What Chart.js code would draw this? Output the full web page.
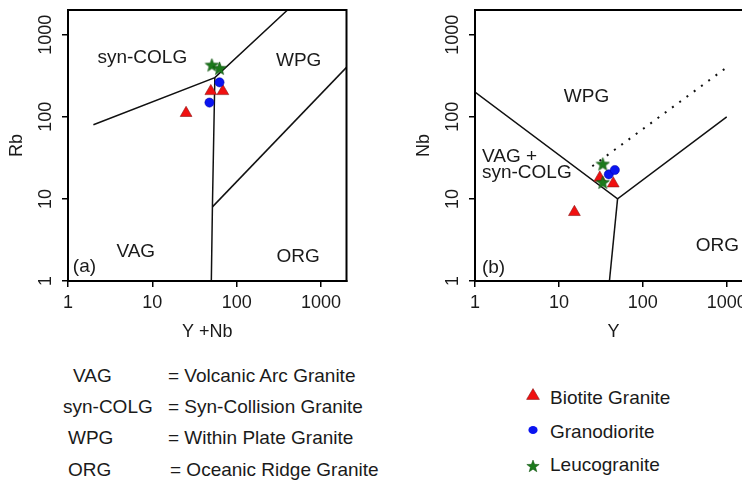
<!DOCTYPE html>
<html><head><meta charset="utf-8">
<script src="https://cdn.jsdelivr.net/npm/chart.js@4.4.1/dist/chart.umd.min.js"></script>
<style>
html,body{margin:0;padding:0;width:742px;height:483px;overflow:hidden;background:#fff;}
body{position:relative;font-family:"Liberation Sans",Arial,sans-serif;color:#1a1a1a;}
#wrapA{position:absolute;left:0;top:0;width:380px;height:350px;}
#wrapB{position:absolute;left:407px;top:0;width:400px;height:350px;}
.lg{position:absolute;font-size:19px;line-height:22px;white-space:nowrap;}
.mk{position:absolute;}
</style></head><body>
<div id="wrapA"><canvas id="chartA" width="380" height="350"></canvas></div>
<div id="wrapB"><canvas id="chartB" width="400" height="350"></canvas></div>
<div id="abbr"></div>
<div id="legend"></div>
<script>
// ---------- data ----------
const tickValues = [1, 10, 100, 1000];
const axisMin = 1;
const axisMax = 2000;
const seriesNames = ['Biotite Granite', 'Granodiorite', 'Leucogranite'];

// panel (a): Rb vs Y+Nb
const biotiteYNb = [25.1, 49.3, 68.5];
const biotiteRb = [111, 205, 205];
const granodioriteYNb = [47.5, 62.5];
const granodioriteRb = [149, 263];
const leucograniteYNb = [50.7, 62.5];
const leucograniteRb = [427, 390];

// panel (b): Nb vs Y
const biotiteY = [15.3, 30.7, 44.4];
const biotiteNb = [6.9, 18.1, 15.4];
const granodioriteY = [39.3, 46.4];
const granodioriteNb = [19.9, 22.5];
const leucograniteY = [33.3, 33.3];
const leucograniteNb = [26.6, 15.9];

// field boundaries
const aSynColX = [2, 55, 400];      const aSynColY = [80, 300, 2000];
const aVagX = [55, 51.5, 50];       const aVagY = [300, 8, 1];
const aOrgX = [51.5, 2000];         const aOrgY = [8, 400];
const bWpgX = [1, 50, 1000];        const bWpgY = [200, 10, 100];
const bOrgX = [50, 40];             const bOrgY = [10, 1];
const bDotX = [25, 1000];           const bDotY = [25, 400];

// text
const abbrevCodes = ['VAG', 'syn-COLG', 'WPG', 'ORG'];
const abbrevNames = ['= Volcanic Arc Granite', '= Syn-Collision Granite', '= Within Plate Granite', '= Oceanic Ridge Granite'];
const labelsA = ['syn-COLG', 'WPG', 'VAG', 'ORG', '(a)'];
const labelsB = ['WPG', 'VAG +', 'syn-COLG', 'ORG', '(b)'];

// ---------- layout / style ----------
const FONT = '"Liberation Sans", Arial, sans-serif';
const TXT = '#1a1a1a';
const colRed = '#f01010', colBlue = '#0a14f0', colGreen = '#1b7a1b';
// label anchors (data coordinates) and alignment
const anchorsA = [[7.6, 520, 'center'], [542, 478, 'center'], [6.36, 2.26, 'center'], [535, 1.96, 'center'], [1.14, 1.48, 'left']];
const anchorsB = [[21.3, 174, 'center'], [1.21, 32.4, 'left'], [1.21, 20.7, 'left'], [428, 2.67, 'left'], [1.21, 1.44, 'left']];

const pts = (xs, ys) => xs.map((x, i) => ({x: x, y: ys[i]}));

function starCanvas(size, color) {
  const c = document.createElement('canvas');
  c.width = size; c.height = size;
  const g = c.getContext('2d');
  const cx = size / 2, cy = size / 2 + 0.5, R = size / 2 - 0.5, r = R * 0.42;
  g.beginPath();
  for (let i = 0; i < 10; i++) {
    const rad = i % 2 ? r : R;
    const a = -Math.PI / 2 + i * Math.PI / 5;
    g.lineTo(cx + rad * Math.cos(a), cy + rad * Math.sin(a));
  }
  g.closePath();
  g.fillStyle = color; g.fill();
  g.strokeStyle = '#0d4d0d'; g.lineWidth = 0.6; g.stroke();
  return c;
}
const starImg = starCanvas(15, colGreen);

function pointSets(bx, by, gx, gy, lx, ly) {
  return [
    {label: seriesNames[2], data: pts(lx, ly), pointStyle: starImg, pointRadius: 7, order: 1, showLine: false},
    {label: seriesNames[1], data: pts(gx, gy), pointStyle: 'circle', pointRadius: 4.6, backgroundColor: colBlue, borderColor: '#0000a0', borderWidth: 0.5, order: 2, showLine: false},
    {label: seriesNames[0], data: pts(bx, by), pointStyle: 'triangle', pointRadius: 6.8, backgroundColor: colRed, borderColor: '#8a1a1a', borderWidth: 0.6, order: 3, showLine: false}
  ];
}
function lineSet(xs, ys, dash) {
  return {data: pts(xs, ys), showLine: true, pointRadius: 0, borderColor: '#111', borderWidth: dash ? 2 : 1.5,
          borderDash: dash || [], order: 10, fill: false, tension: 0};
}

function logAxis(axis, title) {
  const isX = axis === 'x';
  return {
    type: 'logarithmic', min: axisMin, max: axisMax, position: isX ? 'bottom' : 'left',
    afterBuildTicks: s => { s.ticks = tickValues.map(v => ({value: v})); },
    afterFit: s => { if (isX) s.height = 69; else s.width = 68; },
    grid: {display: true, drawOnChartArea: false, drawTicks: true, tickLength: 6, color: '#000', lineWidth: 1.5},
    border: {display: true, color: '#000', width: 2},
    ticks: isX
      ? {autoSkip: false, maxRotation: 0, minRotation: 0, padding: 5, color: TXT, font: {family: FONT, size: 18}, callback: v => String(v)}
      : {autoSkip: false, minRotation: 90, maxRotation: 90, crossAlign: 'center', padding: -4, color: TXT, font: {family: FONT, size: 18}, callback: v => String(v)},
    title: {display: true, text: title, color: TXT, font: {family: FONT, size: 18},
            padding: isX ? {top: 0, bottom: 7} : {top: 6, bottom: 0}}
  };
}

const framePlugin = {
  id: 'frame',
  beforeDatasetsDraw(chart) {
    const {ctx, chartArea: a, scales} = chart;
    const cfg = chart.options.plugins.regionLabels;
    ctx.save();
    ctx.fillStyle = TXT;
    ctx.font = '19px ' + FONT;
    ctx.textBaseline = 'middle';
    cfg.texts.forEach((t, i) => {
      const [x, y, al] = cfg.anchors[i];
      ctx.textAlign = al;
      ctx.fillText(t, scales.x.getPixelForValue(x), scales.y.getPixelForValue(y));
    });
    ctx.restore();
  },
  afterDraw(chart) {
    const {ctx, chartArea: a} = chart;
    ctx.save();
    ctx.strokeStyle = '#000'; ctx.lineWidth = 2;
    ctx.strokeRect(a.left, a.top, a.right - a.left, a.bottom - a.top);
    ctx.restore();
  }
};

function makeChart(id, datasets, xTitle, yTitle, texts, anchors, padRight) {
  return new Chart(document.getElementById(id), {
    type: 'scatter',
    data: {datasets: datasets},
    options: {
      responsive: false, animation: false, devicePixelRatio: 1,
      layout: {padding: {top: 10, right: padRight, left: 0, bottom: 0}},
      plugins: {legend: {display: false}, tooltip: {enabled: false}, regionLabels: {texts: texts, anchors: anchors}},
      scales: {x: logAxis('x', xTitle), y: logAxis('y', yTitle)}
    },
    plugins: [framePlugin]
  });
}

makeChart('chartA',
  pointSets(biotiteYNb, biotiteRb, granodioriteYNb, granodioriteRb, leucograniteYNb, leucograniteRb)
    .concat([lineSet(aSynColX, aSynColY), lineSet(aVagX, aVagY), lineSet(aOrgX, aOrgY)]),
  'Y +Nb', 'Rb', labelsA, anchorsA, 33.5);

makeChart('chartB',
  pointSets(biotiteY, biotiteNb, granodioriteY, granodioriteNb, leucograniteY, leucograniteNb)
    .concat([lineSet(bWpgX, bWpgY), lineSet(bOrgX, bOrgY), lineSet(bDotX, bDotY, [2, 7])]),
  'Y', 'Nb', labelsB, anchorsB, 55);

// ---------- abbreviation key (HTML text) ----------
const abbrLayout = [[73, 168, 376], [63, 168, 407], [68, 168, 438], [68, 170, 470]];
const abbr = document.getElementById('abbr');
abbrevCodes.forEach((c, i) => {
  const [x1, x2, cy] = abbrLayout[i];
  const a = document.createElement('div'); a.className = 'lg'; a.textContent = c;
  a.style.left = x1 + 'px'; a.style.top = (cy - 11) + 'px';
  const b = document.createElement('div'); b.className = 'lg'; b.textContent = abbrevNames[i];
  b.style.left = x2 + 'px'; b.style.top = (cy - 11) + 'px';
  abbr.appendChild(a); abbr.appendChild(b);
});

// ---------- series legend ----------
const legendRows = [398, 432, 465];
const legend = document.getElementById('legend');
function starPoly(cx, cy, R, r) {
  const p = [];
  for (let i = 0; i < 10; i++) {
    const rad = i % 2 ? r : R, a = -Math.PI / 2 + i * Math.PI / 5;
    p.push((cx + rad * Math.cos(a)).toFixed(2) + ',' + (cy + rad * Math.sin(a)).toFixed(2));
  }
  return p.join(' ');
}
const markerSvgs = [
  '<svg width="14" height="12"><polygon points="7,0.6 13.4,11.4 0.6,11.4" fill="' + colRed + '" stroke="#8a1a1a" stroke-width="0.6"/></svg>',
  '<svg width="12" height="10"><ellipse cx="6" cy="5" rx="4.6" ry="4" fill="' + colBlue + '"/></svg>',
  '<svg width="14" height="14">' + '<polygon points="' + starPoly(7, 7.5, 6.5, 2.7) + '" fill="' + colGreen + '" stroke="#0d4d0d" stroke-width="0.5"/></svg>'
];
const markerOffsets = [[-7, -6 - 4], [-6, -5 - 2], [-7, -7 + 1]];
seriesNames.forEach((n, i) => {
  const cy = legendRows[i];
  const m = document.createElement('div'); m.className = 'mk'; m.innerHTML = markerSvgs[i];
  m.style.left = (533 + markerOffsets[i][0]) + 'px'; m.style.top = (cy + markerOffsets[i][1]) + 'px';
  m.style.lineHeight = '0';
  const t = document.createElement('div'); t.className = 'lg'; t.textContent = n;
  t.style.left = '550px'; t.style.top = (cy - 11) + 'px';
  legend.appendChild(m); legend.appendChild(t);
});
</script></body></html>
